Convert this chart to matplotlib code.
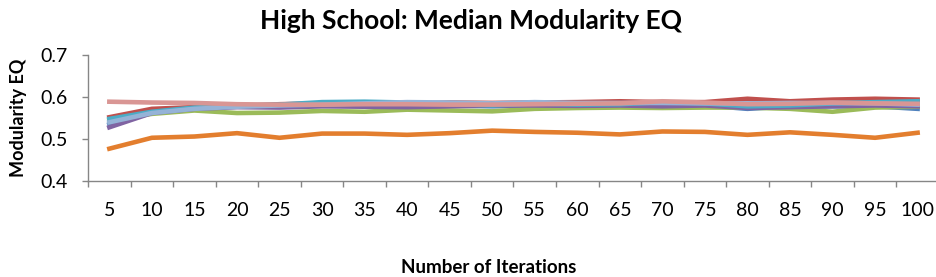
import matplotlib.pyplot as plt
from matplotlib.ticker import FixedLocator

iterations = [5, 10, 15, 20, 25, 30, 35, 40, 45, 50, 55, 60, 65, 70, 75, 80, 85, 90, 95, 100]

blue = [0.535, 0.565, 0.575, 0.578, 0.578, 0.580, 0.580, 0.580, 0.580, 0.578,
        0.580, 0.579, 0.578, 0.580, 0.580, 0.572, 0.578, 0.578, 0.578, 0.572]
red = [0.552, 0.572, 0.576, 0.578, 0.583, 0.585, 0.585, 0.584, 0.587, 0.586,
       0.587, 0.588, 0.590, 0.588, 0.588, 0.596, 0.590, 0.594, 0.596, 0.594]
green = [0.545, 0.560, 0.568, 0.562, 0.563, 0.567, 0.565, 0.570, 0.568, 0.566,
         0.572, 0.574, 0.575, 0.574, 0.575, 0.575, 0.572, 0.565, 0.575, 0.577]
purple = [0.528, 0.562, 0.572, 0.576, 0.575, 0.578, 0.577, 0.576, 0.578, 0.580,
          0.580, 0.579, 0.580, 0.578, 0.580, 0.574, 0.576, 0.578, 0.580, 0.578]
teal = [0.548, 0.565, 0.575, 0.580, 0.582, 0.588, 0.589, 0.587, 0.584, 0.580,
        0.585, 0.582, 0.583, 0.588, 0.585, 0.578, 0.580, 0.585, 0.588, 0.590]
orange = [0.477, 0.503, 0.506, 0.514, 0.503, 0.513, 0.513, 0.510, 0.514, 0.520,
          0.517, 0.515, 0.511, 0.518, 0.517, 0.510, 0.516, 0.510, 0.503, 0.515]
light_blue = [0.540, 0.562, 0.572, 0.577, 0.580, 0.582, 0.585, 0.588, 0.587, 0.585,
              0.588, 0.586, 0.586, 0.586, 0.585, 0.585, 0.586, 0.586, 0.585, 0.582]
pink = [0.589, 0.587, 0.586, 0.583, 0.582, 0.582, 0.583, 0.583, 0.582, 0.582,
        0.583, 0.584, 0.585, 0.590, 0.587, 0.583, 0.584, 0.587, 0.585, 0.584]

series = [
    (blue, "#4F81BD"),
    (red, "#C0504D"),
    (green, "#9BBB59"),
    (purple, "#8064A2"),
    (teal, "#4BACC6"),
    (orange, "#E37E2E"),
    (light_blue, "#95B3D7"),
    (pink, "#D99694"),
]

plt.rcParams["font.family"] = ["Lato", "DejaVu Sans"]

fig = plt.figure(figsize=(9.37, 2.77), dpi=100)
ax = fig.add_axes([0.094, 0.3466, 0.908, 0.4544])

pos = list(range(len(iterations)))
for vals, col in series:
    ax.plot(pos, vals, color=col, linewidth=3.3, solid_joinstyle="round")

ax.set_xlim(-0.5, len(iterations) - 0.5)
ax.set_ylim(0.4, 0.7)
ax.set_yticks([0.4, 0.5, 0.6, 0.7])
ax.set_yticklabels(["0.4", "0.5", "0.6", "0.7"])
ax.set_xticks(pos)
ax.set_xticklabels([str(i) for i in iterations])
ax.xaxis.set_minor_locator(FixedLocator([p - 0.5 for p in pos] + [len(pos) - 0.5]))

ax.tick_params(axis="x", which="major", length=0, pad=15, labelsize=14)
ax.tick_params(axis="x", which="minor", length=4.5, color="#868686", width=1)
ax.tick_params(axis="y", length=4.5, color="#868686", width=1, labelsize=14, pad=10)

for s in ["top", "right"]:
    ax.spines[s].set_visible(False)
for s in ["left", "bottom"]:
    ax.spines[s].set_color("#868686")
    ax.spines[s].set_linewidth(1)

ax.set_ylabel("Modularity EQ", fontsize=13, fontweight="bold")
ax.yaxis.set_label_coords(-0.072, 0.5)
ax.set_xlabel("Number of Iterations", fontsize=13.5, fontweight="bold")
ax.xaxis.set_label_coords(0.471, -0.62)
fig.text(0.503, 0.925, "High School: Median Modularity EQ", ha="center", va="center",
         fontsize=19, fontweight="bold")

fig.savefig("out.png", dpi=100)
